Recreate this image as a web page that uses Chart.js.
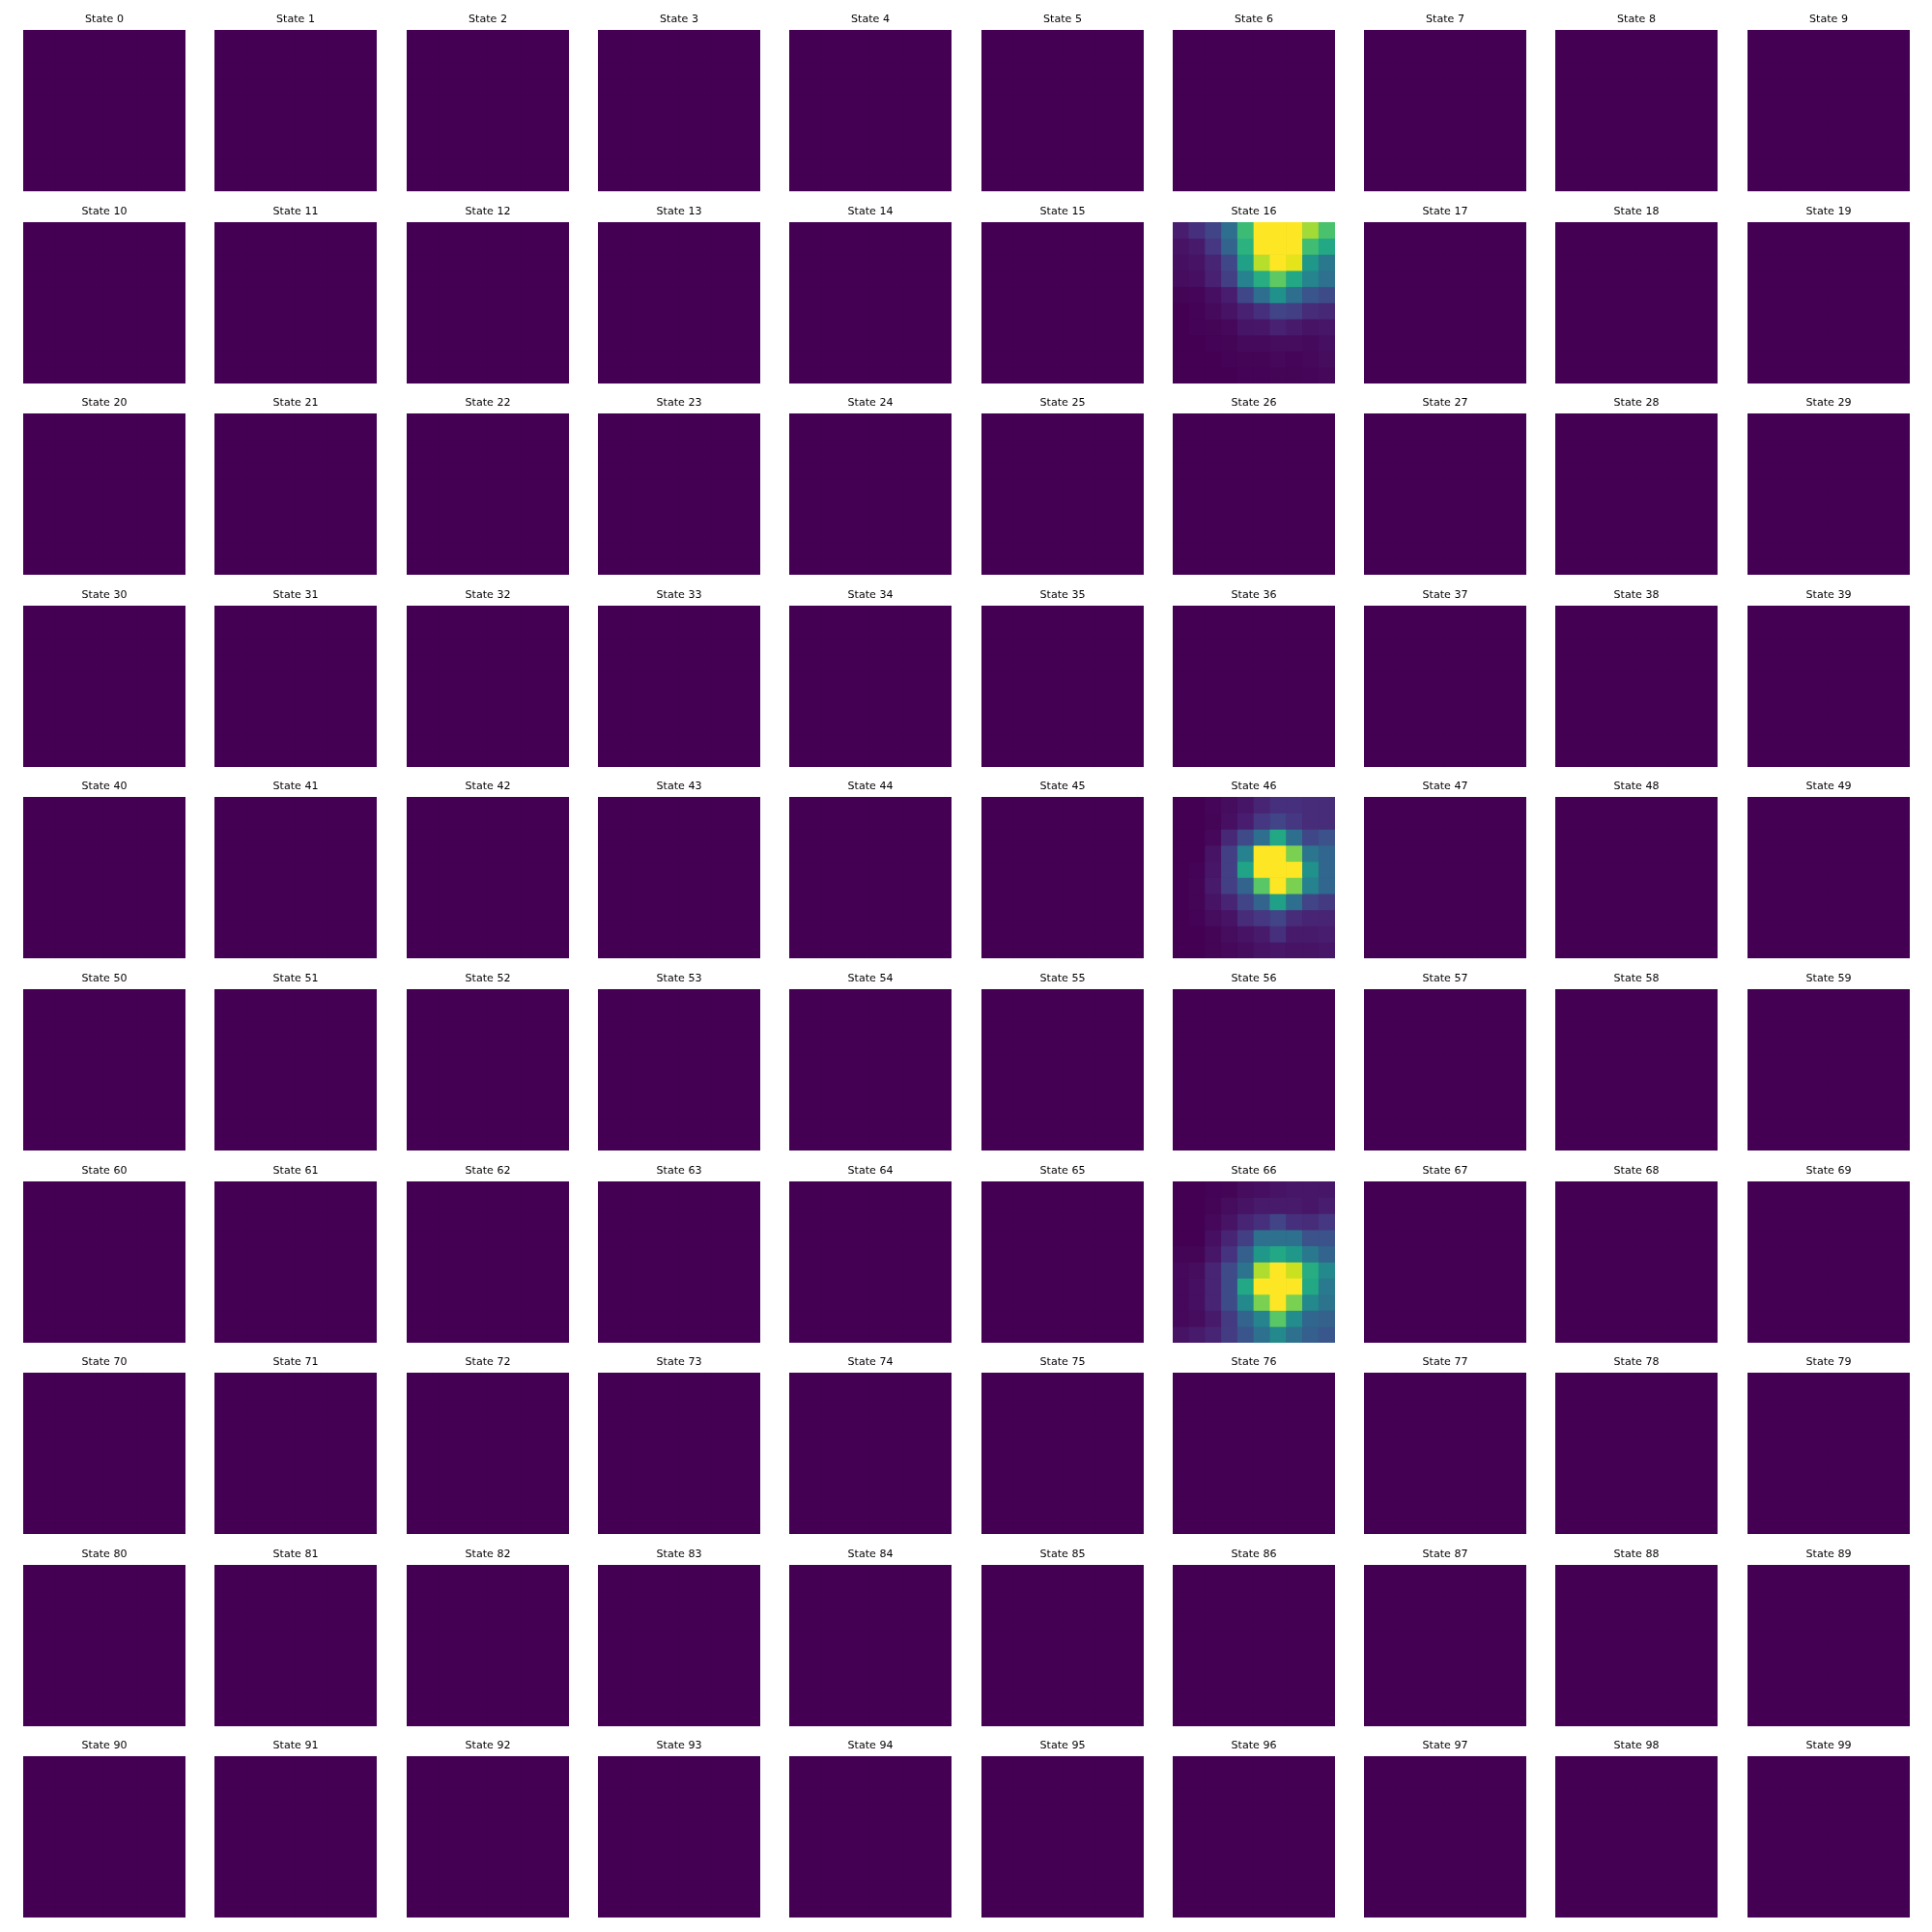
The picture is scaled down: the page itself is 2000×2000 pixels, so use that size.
<!DOCTYPE html>
<html>
<head>
<meta charset="utf-8">
<script src="https://cdn.jsdelivr.net/npm/chart.js@4.4.1/dist/chart.umd.min.js"></script>
<style>
  html, body { margin: 0; padding: 0; background: #ffffff; }
  #fig { position: relative; width: 2000px; height: 2000px; background: #ffffff; overflow: hidden; }
  #fig canvas { position: absolute; }
</style>
</head>
<body>
<div id="fig"></div>
<script>
// ---------------- DATA ----------------
const stateCount = 100;
const colLabels = ['0', '1', '2', '3', '4', '5', '6', '7', '8', '9'];
const rowLabels = ['0', '1', '2', '3', '4', '5', '6', '7', '8', '9'];

// States whose 10x10 grid is not flat
const activeStates = [16, 46, 66];

const state16 = [
  [0.08, 0.13, 0.20, 0.36, 0.68, 1.00, 1.00, 1.00, 0.86, 0.71],
  [0.05, 0.07, 0.15, 0.32, 0.64, 1.00, 1.00, 1.00, 0.69, 0.60],
  [0.04, 0.05, 0.10, 0.21, 0.57, 0.89, 1.00, 0.96, 0.53, 0.40],
  [0.03, 0.04, 0.09, 0.18, 0.44, 0.62, 0.75, 0.60, 0.45, 0.37],
  [0.01, 0.015, 0.04, 0.08, 0.21, 0.36, 0.50, 0.36, 0.26, 0.23],
  [0.00, 0.005, 0.025, 0.05, 0.09, 0.13, 0.20, 0.18, 0.12, 0.11],
  [0.00, 0.005, 0.01, 0.02, 0.055, 0.06, 0.09, 0.07, 0.05, 0.06],
  [0.00, 0.00, 0.005, 0.01, 0.025, 0.025, 0.03, 0.03, 0.025, 0.04],
  [0.00, 0.00, 0.00, 0.005, 0.01, 0.01, 0.02, 0.015, 0.02, 0.03],
  [0.00, 0.00, 0.00, 0.00, 0.005, 0.005, 0.01, 0.01, 0.015, 0.02]
];

const state46 = [
  [0.00, 0.00, 0.015, 0.03, 0.055, 0.10, 0.13, 0.13, 0.12, 0.12],
  [0.00, 0.00, 0.01, 0.04, 0.08, 0.15, 0.20, 0.15, 0.12, 0.12],
  [0.00, 0.00, 0.02, 0.11, 0.22, 0.36, 0.60, 0.36, 0.21, 0.25],
  [0.00, 0.00, 0.05, 0.18, 0.44, 1.00, 1.00, 0.80, 0.39, 0.33],
  [0.00, 0.005, 0.06, 0.18, 0.58, 1.00, 1.00, 1.00, 0.50, 0.33],
  [0.00, 0.01, 0.07, 0.18, 0.32, 0.74, 1.00, 0.80, 0.44, 0.33],
  [0.00, 0.01, 0.05, 0.10, 0.20, 0.32, 0.57, 0.36, 0.20, 0.16],
  [0.00, 0.005, 0.03, 0.05, 0.12, 0.15, 0.20, 0.12, 0.10, 0.10],
  [0.00, 0.00, 0.01, 0.03, 0.05, 0.07, 0.13, 0.07, 0.07, 0.08],
  [0.00, 0.00, 0.01, 0.02, 0.03, 0.05, 0.06, 0.05, 0.05, 0.06]
];

const state66 = [
  [0.00, 0.00, 0.005, 0.01, 0.03, 0.04, 0.05, 0.06, 0.06, 0.06],
  [0.00, 0.00, 0.01, 0.03, 0.05, 0.07, 0.07, 0.07, 0.06, 0.08],
  [0.00, 0.00, 0.02, 0.05, 0.10, 0.13, 0.20, 0.13, 0.12, 0.15],
  [0.00, 0.00, 0.04, 0.10, 0.18, 0.37, 0.37, 0.37, 0.25, 0.25],
  [0.01, 0.01, 0.06, 0.14, 0.30, 0.53, 0.60, 0.53, 0.40, 0.32],
  [0.02, 0.03, 0.10, 0.22, 0.38, 0.88, 1.00, 0.92, 0.62, 0.47],
  [0.02, 0.04, 0.10, 0.23, 0.60, 1.00, 1.00, 1.00, 0.60, 0.41],
  [0.02, 0.04, 0.10, 0.23, 0.47, 0.80, 1.00, 0.80, 0.47, 0.38],
  [0.02, 0.03, 0.07, 0.16, 0.32, 0.45, 0.74, 0.48, 0.33, 0.31],
  [0.05, 0.07, 0.10, 0.17, 0.26, 0.37, 0.47, 0.37, 0.30, 0.27]
];

// Every other state is flat (all zeros)
const flatState = [
  [0, 0, 0, 0, 0, 0, 0, 0, 0, 0],
  [0, 0, 0, 0, 0, 0, 0, 0, 0, 0],
  [0, 0, 0, 0, 0, 0, 0, 0, 0, 0],
  [0, 0, 0, 0, 0, 0, 0, 0, 0, 0],
  [0, 0, 0, 0, 0, 0, 0, 0, 0, 0],
  [0, 0, 0, 0, 0, 0, 0, 0, 0, 0],
  [0, 0, 0, 0, 0, 0, 0, 0, 0, 0],
  [0, 0, 0, 0, 0, 0, 0, 0, 0, 0],
  [0, 0, 0, 0, 0, 0, 0, 0, 0, 0],
  [0, 0, 0, 0, 0, 0, 0, 0, 0, 0]
];

const activeGrids = { 16: state16, 46: state46, 66: state66 };

// ---------------- STYLE ----------------
const viridisStops = [
  [0.00, '#440154'], [0.05, '#471365'], [0.10, '#482475'], [0.15, '#453781'],
  [0.20, '#414487'], [0.25, '#3b528b'], [0.30, '#355f8d'], [0.35, '#2f6c8e'],
  [0.40, '#2a788e'], [0.45, '#25848e'], [0.50, '#21918c'], [0.55, '#1e9c89'],
  [0.60, '#22a884'], [0.65, '#2fb47c'], [0.70, '#44bf70'], [0.75, '#5ec962'],
  [0.80, '#7ad151'], [0.85, '#9bd93c'], [0.90, '#bddf26'], [0.95, '#dfe318'],
  [1.00, '#fde725']
];
function hexToRgb(h) {
  return [parseInt(h.slice(1, 3), 16), parseInt(h.slice(3, 5), 16), parseInt(h.slice(5, 7), 16)];
}
function viridis(t) {
  t = Math.max(0, Math.min(1, t));
  for (let i = 0; i < viridisStops.length - 1; i++) {
    const [t0, c0] = viridisStops[i];
    const [t1, c1] = viridisStops[i + 1];
    if (t <= t1) {
      const f = (t - t0) / (t1 - t0);
      const a = hexToRgb(c0), b = hexToRgb(c1);
      const r = Math.round(a[0] + (b[0] - a[0]) * f);
      const g = Math.round(a[1] + (b[1] - a[1]) * f);
      const bl = Math.round(a[2] + (b[2] - a[2]) * f);
      return `rgb(${r},${g},${bl})`;
    }
  }
  return viridisStops[viridisStops.length - 1][1];
}

const layout = {
  cols: 10,
  left: 24, top: 31,
  pitchX: 198.3, pitchY: 198.6,
  panelW: 168, panelH: 167,
  titleH: 24
};

const areaBg = {
  id: 'areaBg',
  beforeDatasetsDraw(chart) {
    const { ctx, chartArea } = chart;
    ctx.save();
    ctx.fillStyle = viridis(0);
    ctx.fillRect(chartArea.left, chartArea.top, chartArea.right - chartArea.left, chartArea.bottom - chartArea.top);
    ctx.restore();
  }
};

const fig = document.getElementById('fig');

for (let s = 0; s < stateCount; s++) {
  const grid = activeGrids[s] || flatState;
  const flat = grid.flat();
  const vmin = Math.min(...flat), vmax = Math.max(...flat);
  const norm = v => (vmax > vmin ? (v - vmin) / (vmax - vmin) : 0);

  const datasets = rowLabels.map((rl, r) => ({
    label: 'row ' + rl,
    data: colLabels.map(() => 1),
    backgroundColor: grid[r].map(v => viridis(norm(v))),
    borderWidth: 0,
    barPercentage: 1,
    categoryPercentage: 1,
    stack: 'cells'
  }));

  const col = s % layout.cols, row = Math.floor(s / layout.cols);
  const x = Math.round(layout.left + col * layout.pitchX);
  const y = Math.round(layout.top + row * layout.pitchY);

  const canvas = document.createElement('canvas');
  canvas.width = layout.panelW;
  canvas.height = layout.panelH + layout.titleH;
  canvas.style.left = x + 'px';
  canvas.style.top = (y - layout.titleH) + 'px';
  canvas.style.width = layout.panelW + 'px';
  canvas.style.height = (layout.panelH + layout.titleH) + 'px';
  fig.appendChild(canvas);

  new Chart(canvas, {
    type: 'bar',
    data: { labels: colLabels, datasets },
    plugins: [areaBg],
    options: {
      responsive: false,
      animation: false,
      devicePixelRatio: 1,
      layout: { padding: 0 },
      events: [],
      plugins: {
        legend: { display: false },
        tooltip: { enabled: false },
        title: {
          display: true,
          text: 'State ' + s,
          color: '#000000',
          font: { family: 'DejaVu Sans', size: 11.1, weight: 'normal', lineHeight: 1.2 },
          padding: { top: 6.5, bottom: 4.17 }
        }
      },
      scales: {
        x: { display: false, stacked: true, offset: true },
        y: { display: false, stacked: true, min: 0, max: 10, reverse: true }
      }
    }
  });
}
</script>
</body>
</html>
